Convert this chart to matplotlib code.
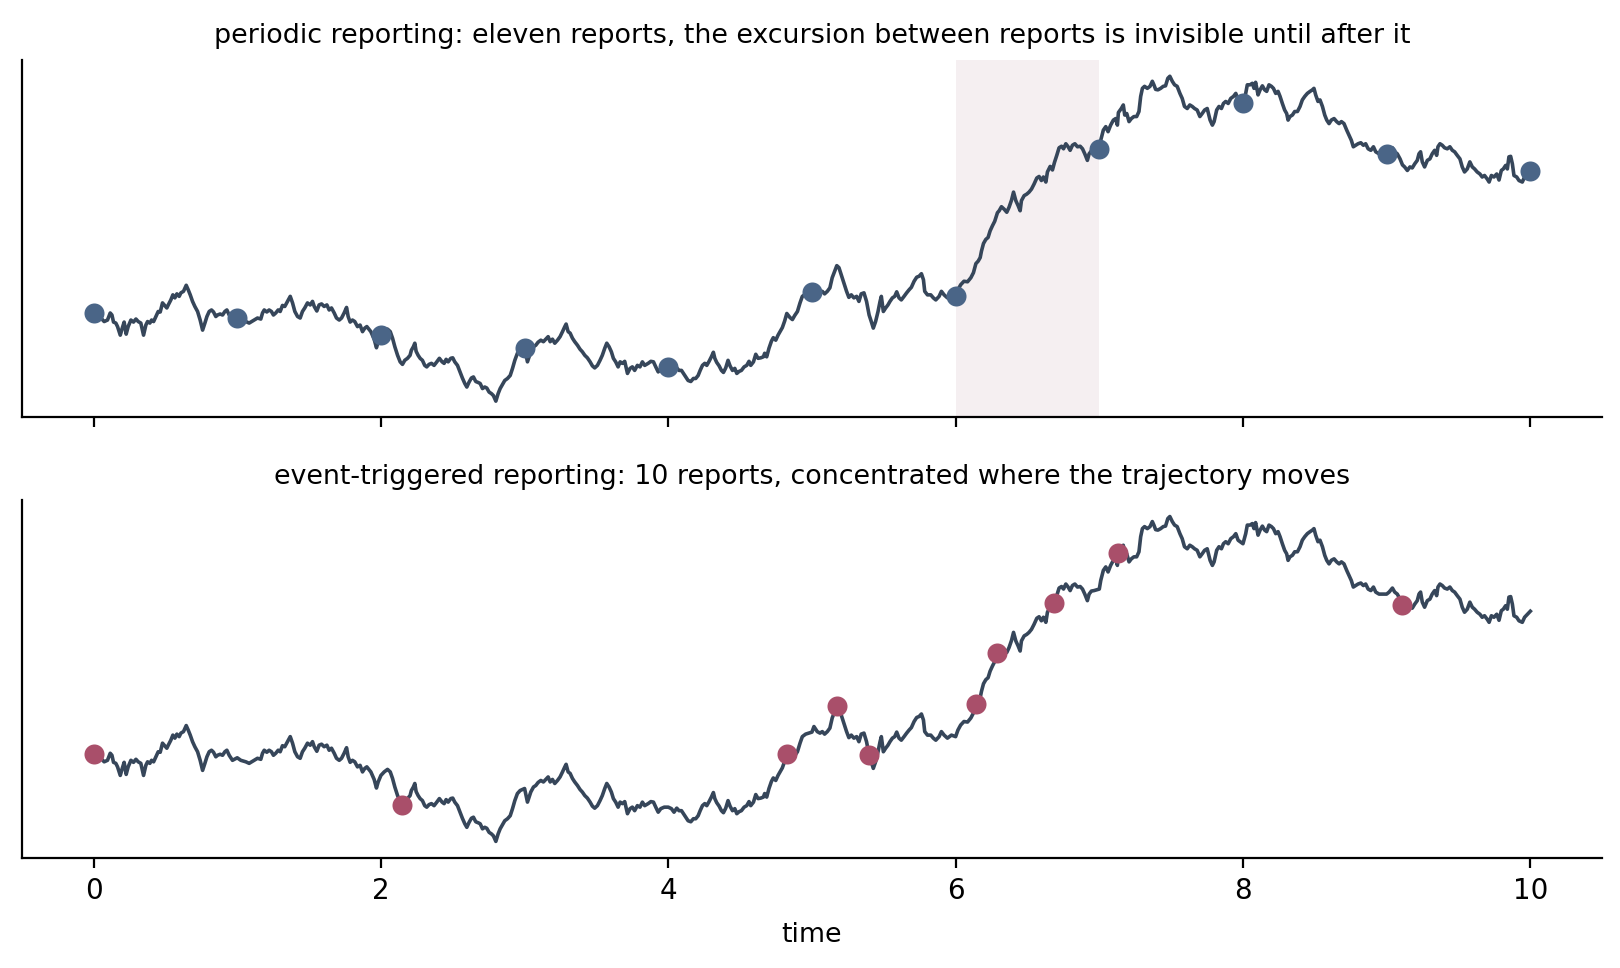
import numpy as np
import matplotlib.pyplot as plt

# trajectory (time, level)
t = [0.0, 0.051, 0.074, 0.097, 0.116, 0.128, 0.139, 0.155, 0.167, 0.186, 0.2, 0.213, 0.227, 0.241, 0.26, 0.278,
     0.295, 0.311, 0.329, 0.348, 0.364, 0.376, 0.392, 0.404, 0.418, 0.434, 0.45, 0.464, 0.48, 0.492, 0.51, 0.52,
     0.538, 0.552, 0.566, 0.58, 0.596, 0.608, 0.626, 0.645, 0.659, 0.673, 0.689, 0.705, 0.724, 0.742, 0.759, 0.775,
     0.789, 0.805, 0.821, 0.835, 0.851, 0.863, 0.881, 0.898, 0.914, 0.928, 0.944, 0.967, 1.0, 1.025, 1.06, 1.083,
     1.1, 1.118, 1.141, 1.164, 1.176, 1.188, 1.206, 1.222, 1.238, 1.252, 1.268, 1.285, 1.299, 1.315, 1.331, 1.35,
     1.369, 1.385, 1.401, 1.42, 1.438, 1.454, 1.47, 1.489, 1.508, 1.524, 1.536, 1.554, 1.57, 1.587, 1.605, 1.624,
     1.64, 1.656, 1.675, 1.691, 1.71, 1.726, 1.744, 1.761, 1.772, 1.786, 1.802, 1.818, 1.837, 1.855, 1.872, 1.888,
     1.902, 1.93, 1.953, 1.969, 1.981, 2.0, 2.023, 2.046, 2.065, 2.081, 2.097, 2.116, 2.134, 2.15, 2.166, 2.185,
     2.203, 2.212, 2.226, 2.236, 2.245, 2.259, 2.273, 2.289, 2.305, 2.319, 2.335, 2.352, 2.37, 2.389, 2.407, 2.426,
     2.44, 2.454, 2.468, 2.486, 2.5, 2.514, 2.533, 2.551, 2.567, 2.584, 2.598, 2.614, 2.63, 2.644, 2.66, 2.677,
     2.691, 2.707, 2.723, 2.737, 2.753, 2.769, 2.783, 2.8, 2.816, 2.83, 2.846, 2.862, 2.881, 2.9, 2.916, 2.932,
     2.95, 2.969, 3.0, 3.02, 3.043, 3.062, 3.078, 3.094, 3.113, 3.131, 3.147, 3.164, 3.178, 3.194, 3.21, 3.229,
     3.247, 3.264, 3.28, 3.289, 3.303, 3.317, 3.333, 3.349, 3.368, 3.386, 3.402, 3.419, 3.437, 3.456, 3.472, 3.488,
     3.507, 3.525, 3.541, 3.558, 3.572, 3.588, 3.604, 3.618, 3.634, 3.651, 3.665, 3.681, 3.697, 3.716, 3.734, 3.75,
     3.766, 3.785, 3.803, 3.82, 3.836, 3.86, 3.879, 3.897, 3.913, 3.93, 3.948, 3.972, 4.0, 4.022, 4.04, 4.059,
     4.075, 4.092, 4.106, 4.122, 4.138, 4.157, 4.175, 4.191, 4.208, 4.222, 4.238, 4.254, 4.268, 4.284, 4.3, 4.314,
     4.324, 4.337, 4.354, 4.37, 4.384, 4.4, 4.416, 4.43, 4.447, 4.463, 4.477, 4.493, 4.509, 4.528, 4.546, 4.562,
     4.574, 4.593, 4.609, 4.625, 4.644, 4.662, 4.671, 4.685, 4.701, 4.718, 4.731, 4.748, 4.764, 4.778, 4.794, 4.81,
     4.825, 4.847, 4.864, 4.88, 4.899, 4.917, 4.933, 4.956, 5.0, 5.014, 5.037, 5.056, 5.072, 5.088, 5.107, 5.125,
     5.141, 5.158, 5.173, 5.188, 5.204, 5.223, 5.241, 5.257, 5.274, 5.292, 5.311, 5.327, 5.343, 5.362, 5.38, 5.398,
     5.413, 5.427, 5.443, 5.46, 5.474, 5.483, 5.497, 5.513, 5.529, 5.543, 5.56, 5.576, 5.59, 5.606, 5.622, 5.641,
     5.659, 5.676, 5.692, 5.711, 5.729, 5.746, 5.762, 5.776, 5.785, 5.804, 5.827, 5.845, 5.862, 5.885, 5.901, 5.92,
     5.943, 5.971, 6.0, 6.016, 6.035, 6.058, 6.083, 6.106, 6.124, 6.141, 6.157, 6.171, 6.18, 6.194, 6.21, 6.226,
     6.24, 6.256, 6.272, 6.291, 6.303, 6.319, 6.338, 6.356, 6.372, 6.389, 6.403, 6.419, 6.435, 6.449, 6.458, 6.477,
     6.495, 6.511, 6.528, 6.546, 6.565, 6.581, 6.597, 6.611, 6.628, 6.639, 6.658, 6.674, 6.688, 6.704, 6.72, 6.737,
     6.751, 6.767, 6.783, 6.797, 6.813, 6.83, 6.848, 6.867, 6.883, 6.899, 6.917, 6.929, 6.945, 6.964, 7.0, 7.01,
     7.028, 7.045, 7.061, 7.079, 7.098, 7.114, 7.126, 7.133, 7.153, 7.167, 7.177, 7.191, 7.207, 7.223, 7.241, 7.26,
     7.276, 7.288, 7.3, 7.315, 7.334, 7.353, 7.369, 7.38, 7.392, 7.408, 7.427, 7.445, 7.461, 7.477, 7.491, 7.508,
     7.524, 7.542, 7.561, 7.577, 7.593, 7.612, 7.63, 7.647, 7.663, 7.681, 7.7, 7.716, 7.733, 7.751, 7.771, 7.787,
     7.799, 7.817, 7.833, 7.85, 7.864, 7.88, 7.897, 7.915, 7.934, 7.95, 7.966, 8.0, 8.019, 8.03, 8.049, 8.065,
     8.077, 8.088, 8.105, 8.119, 8.135, 8.151, 8.165, 8.181, 8.198, 8.212, 8.228, 8.244, 8.258, 8.274, 8.29, 8.304,
     8.314, 8.327, 8.344, 8.36, 8.379, 8.397, 8.413, 8.43, 8.448, 8.467, 8.483, 8.494, 8.506, 8.522, 8.536, 8.553,
     8.569, 8.583, 8.599, 8.615, 8.634, 8.652, 8.669, 8.685, 8.703, 8.722, 8.738, 8.754, 8.768, 8.785, 8.801, 8.82,
     8.838, 8.854, 8.871, 8.89, 8.908, 8.924, 8.947, 9.0, 9.017, 9.04, 9.056, 9.074, 9.093, 9.11, 9.125, 9.144,
     9.162, 9.178, 9.195, 9.213, 9.225, 9.236, 9.248, 9.264, 9.283, 9.301, 9.317, 9.334, 9.348, 9.357, 9.371, 9.387,
     9.403, 9.422, 9.44, 9.457, 9.473, 9.491, 9.51, 9.526, 9.542, 9.561, 9.579, 9.596, 9.612, 9.63, 9.649, 9.665,
     9.681, 9.7, 9.713, 9.729, 9.747, 9.766, 9.782, 9.798, 9.812, 9.828, 9.84, 9.851, 9.863, 9.875, 9.886, 9.905,
     9.921, 9.944, 9.96, 10.0]
x = [0.0, -0.09, -0.16, -0.13, 0.01, -0.03, -0.17, -0.19, -0.26, -0.43, -0.29, -0.17, -0.41, -0.26, -0.13, -0.17,
     -0.11, -0.16, -0.19, -0.43, -0.23, -0.16, -0.19, -0.13, -0.16, -0.06, 0.04, 0.03, 0.21, 0.17, 0.11, 0.17,
     0.27, 0.37, 0.31, 0.39, 0.34, 0.41, 0.44, 0.56, 0.47, 0.37, 0.24, 0.14, 0.04, -0.13, -0.33, -0.19,
     -0.06, 0.04, 0.07, 0.03, -0.06, -0.03, -0.01, -0.03, 0.04, 0.07, -0.03, -0.13, -0.08, -0.13, -0.16, -0.19,
     -0.16, -0.13, -0.09, -0.11, 0.01, 0.07, 0.03, 0.07, 0.04, -0.03, 0.01, 0.07, 0.04, 0.16, 0.14, 0.24,
     0.34, 0.21, 0.04, -0.06, -0.09, 0.04, 0.11, 0.21, 0.17, 0.24, 0.14, 0.05, 0.17, 0.19, 0.14, 0.17,
     0.07, 0.11, 0.01, -0.09, -0.13, -0.09, 0.01, 0.12, -0.06, -0.17, -0.13, -0.16, -0.26, -0.23, -0.36, -0.29,
     -0.26, -0.36, -0.51, -0.68, -0.56, -0.43, -0.36, -0.31, -0.36, -0.49, -0.66, -0.83, -0.96, -1.01, -0.93, -0.89,
     -0.83, -0.73, -0.66, -0.59, -0.75, -0.83, -0.89, -0.93, -1.03, -1.06, -1.01, -0.99, -1.03, -0.96, -0.89, -0.96,
     -0.99, -0.91, -0.96, -0.89, -0.88, -0.96, -1.03, -1.16, -1.28, -1.39, -1.46, -1.36, -1.28, -1.26, -1.35, -1.37,
     -1.39, -1.49, -1.46, -1.48, -1.56, -1.59, -1.63, -1.74, -1.59, -1.49, -1.41, -1.33, -1.29, -1.23, -1.09, -0.93,
     -0.79, -0.73, -0.69, -0.96, -0.76, -0.66, -0.63, -0.57, -0.53, -0.56, -0.51, -0.46, -0.56, -0.51, -0.59, -0.53,
     -0.46, -0.36, -0.26, -0.21, -0.36, -0.39, -0.49, -0.56, -0.63, -0.71, -0.76, -0.83, -0.88, -0.96, -1.04, -1.08,
     -1.03, -0.93, -0.83, -0.69, -0.59, -0.66, -0.76, -0.89, -0.96, -1.06, -0.96, -0.99, -0.95, -1.19, -1.09, -1.06,
     -1.13, -1.03, -1.06, -0.96, -1.03, -0.99, -0.95, -0.96, -1.06, -1.16, -1.09, -1.06, -1.06, -1.09, -1.16, -1.08,
     -1.13, -1.13, -1.19, -1.26, -1.33, -1.35, -1.29, -1.29, -1.23, -1.13, -1.03, -0.99, -1.03, -0.95, -0.86, -0.77,
     -0.89, -0.97, -1.04, -1.13, -1.17, -1.08, -0.93, -1.04, -1.13, -1.09, -1.19, -1.15, -1.13, -1.06, -1.03, -0.95,
     -1.03, -0.96, -0.81, -0.89, -0.88, -0.86, -0.79, -0.86, -0.69, -0.55, -0.48, -0.53, -0.43, -0.36, -0.28, -0.15,
     0.0, -0.08, -0.12, -0.04, 0.04, 0.21, 0.34, 0.39, 0.43, 0.54, 0.44, 0.41, 0.44, 0.39, 0.44, 0.51,
     0.71, 0.84, 0.95, 0.91, 0.77, 0.61, 0.44, 0.32, 0.37, 0.31, 0.34, 0.24, 0.39, 0.41, 0.24, -0.03,
     -0.16, -0.29, -0.16, 0.04, 0.24, 0.34, 0.04, 0.11, 0.17, 0.24, 0.31, 0.34, 0.43, 0.31, 0.27, 0.34,
     0.41, 0.47, 0.52, 0.64, 0.72, 0.74, 0.79, 0.67, 0.44, 0.37, 0.37, 0.31, 0.27, 0.34, 0.44, 0.37,
     0.31, 0.37, 0.34, 0.47, 0.57, 0.64, 0.63, 0.71, 0.81, 0.99, 1.04, 1.11, 1.24, 1.39, 1.47, 1.51,
     1.64, 1.74, 1.83, 2.0, 2.04, 2.12, 2.07, 2.01, 2.11, 2.25, 2.41, 2.24, 2.14, 2.04, 2.24, 2.34,
     2.37, 2.41, 2.47, 2.57, 2.69, 2.72, 2.64, 2.71, 2.61, 2.81, 2.92, 2.85, 3.0, 3.14, 3.29, 3.32,
     3.27, 3.37, 3.31, 3.24, 3.34, 3.37, 3.31, 3.32, 3.27, 3.17, 3.04, 3.17, 3.23, 3.24, 3.27, 3.44,
     3.64, 3.71, 3.61, 3.74, 3.84, 3.87, 3.74, 3.99, 4.07, 4.14, 3.94, 3.97, 3.81, 3.87, 3.91, 3.91,
     4.01, 4.31, 4.47, 4.51, 4.47, 4.51, 4.61, 4.54, 4.45, 4.44, 4.47, 4.51, 4.52, 4.67, 4.71, 4.61,
     4.54, 4.51, 4.37, 4.27, 4.11, 4.07, 4.14, 4.11, 4.07, 4.04, 3.91, 3.97, 4.04, 4.07, 3.84, 3.74,
     3.81, 4.04, 4.11, 4.07, 4.17, 4.21, 4.17, 4.27, 4.31, 4.37, 4.24, 4.17, 4.37, 4.54, 4.54, 4.57,
     4.47, 4.59, 4.34, 4.44, 4.52, 4.44, 4.41, 4.54, 4.51, 4.47, 4.37, 4.41, 4.31, 4.17, 4.04, 3.97,
     3.84, 3.91, 3.94, 4.01, 4.01, 4.11, 4.24, 4.31, 4.37, 4.41, 4.44, 4.47, 4.34, 4.21, 4.24, 4.11,
     3.94, 3.84, 3.77, 3.84, 3.87, 3.81, 3.77, 3.81, 3.77, 3.64, 3.54, 3.44, 3.31, 3.34, 3.37, 3.39,
     3.34, 3.37, 3.27, 3.24, 3.31, 3.21, 3.17, 3.17, 3.21, 3.29, 3.21, 3.17, 3.07, 2.95, 2.91, 2.84,
     2.91, 2.89, 2.97, 3.04, 3.17, 3.21, 3.01, 2.91, 3.04, 3.07, 3.17, 3.24, 3.14, 3.31, 3.37, 3.34,
     3.29, 3.27, 3.31, 3.24, 3.21, 3.14, 3.07, 2.91, 2.81, 2.87, 3.01, 2.91, 2.87, 2.81, 2.77, 2.71,
     2.74, 2.67, 2.61, 2.74, 2.71, 2.77, 2.65, 2.84, 2.87, 2.94, 2.87, 3.11, 3.12, 2.97, 2.74, 2.71,
     2.64, 2.61, 2.71, 2.83]

# periodic reports, one per time unit
periodic_t = [0, 1, 2, 3, 4, 5, 6, 7, 8, 9, 10]
periodic_x = [0.0, -0.08, -0.43, -0.69, -1.06, 0.43, 0.34, 3.27, 4.17, 3.17, 2.83]

# event-triggered reports
event_t = [0.0, 2.15, 4.825, 5.173, 5.398, 6.141, 6.291, 6.688, 7.133, 9.11]
event_x = [0.0, -1.01, 0.0, 0.95, -0.03, 0.99, 2.0, 3.0, 3.99, 2.95]

# the gap that periodic reporting misses
gap_start, gap_end = 6, 7

line_color = '#36465a'

fig, (ax1, ax2) = plt.subplots(2, 1, figsize=(8.1, 4.84), sharex=True, sharey=True)
fig.subplots_adjust(left=0.0134, right=0.989, bottom=0.114, top=0.938, hspace=0.232)

ax1.axvspan(gap_start, gap_end, color='#f5eff1', zorder=0, lw=0)
ax1.plot(t, x, color=line_color, lw=1.3, zorder=2)
ax1.scatter(periodic_t, periodic_x, s=52, color='#4a6587', zorder=3, linewidths=0)
ax1.set_title('periodic reporting: eleven reports, the excursion between reports is invisible until after it',
              fontsize=9.7)

ax2.plot(t, x, color=line_color, lw=1.3, zorder=2)
ax2.scatter(event_t, event_x, s=52, color='#a94f6a', zorder=3, linewidths=0)
ax2.set_title('event-triggered reporting: 10 reports, concentrated where the trajectory moves', fontsize=9.7)
ax2.set_xlabel('time', fontsize=9.7, labelpad=6)

for ax in (ax1, ax2):
    ax.spines['top'].set_visible(False)
    ax.spines['right'].set_visible(False)
    ax.set_yticks([])
    ax.set_xticks([0, 2, 4, 6, 8, 10])
    ax.tick_params(axis='x', labelsize=10)

ax1.set_xlim(-0.5, 10.5)

plt.savefig('out.png', dpi=200)
